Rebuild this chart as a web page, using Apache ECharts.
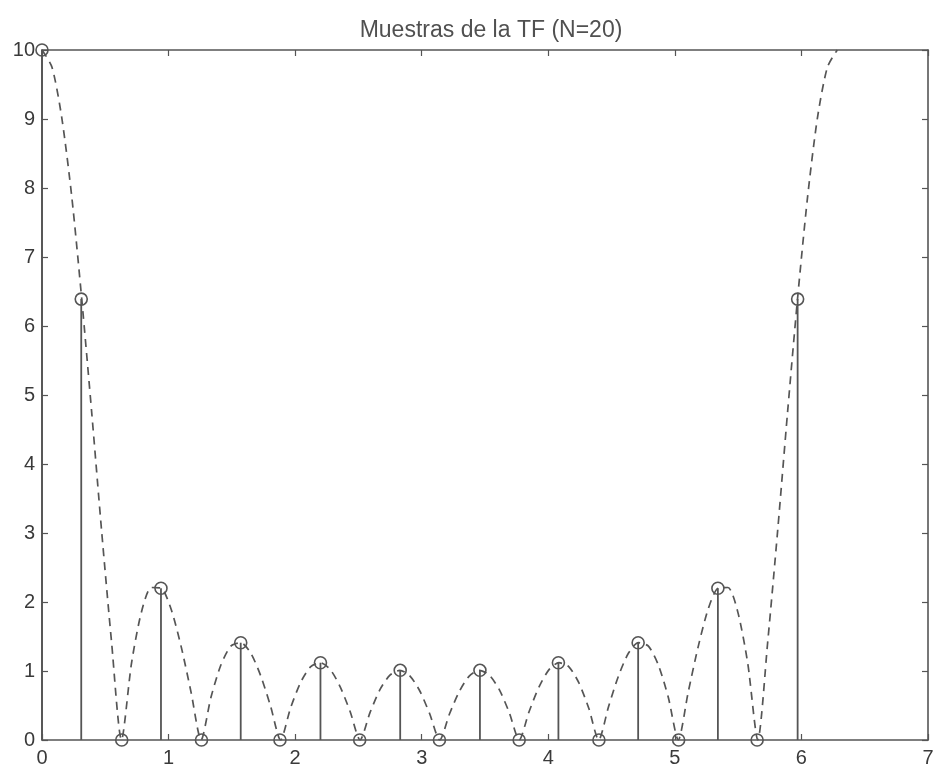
<!DOCTYPE html>
<html>
<head>
<meta charset="utf-8">
<title>Muestras de la TF (N=20)</title>
<script src="https://cdn.jsdelivr.net/npm/echarts@6/dist/echarts.min.js"></script>
<style>
  html, body { margin: 0; padding: 0; background: #fff; }
  #chart { width: 937px; height: 772px; }
</style>
</head>
<body>
<div id="chart"></div>
<script>
// DFT sample positions (rad) and magnitudes, N = 20
const sampleW = [0.00, 0.31, 0.63, 0.94, 1.26, 1.57, 1.88, 2.20, 2.51, 2.83,
                 3.14, 3.46, 3.77, 4.08, 4.40, 4.71, 5.03, 5.34, 5.65, 5.97];
const sampleMag = [10.00, 6.39, 0, 2.20, 0, 1.41, 0, 1.12, 0, 1.01,
                   0, 1.01, 0, 1.12, 0, 1.41, 0, 2.20, 0, 6.39];

// Continuous transform magnitude (dashed envelope), step pi/40
const curveW = [0.000, 0.079, 0.157, 0.236, 0.314, 0.393, 0.471, 0.550, 0.628, 0.707,
                0.785, 0.864, 0.942, 1.021, 1.100, 1.178, 1.257, 1.335, 1.414, 1.492,
                1.571, 1.649, 1.728, 1.806, 1.885, 1.963, 2.042, 2.121, 2.199, 2.278,
                2.356, 2.435, 2.513, 2.592, 2.670, 2.749, 2.827, 2.906, 2.985, 3.063,
                3.142, 3.220, 3.299, 3.377, 3.456, 3.534, 3.613, 3.691, 3.770, 3.848,
                3.927, 4.006, 4.084, 4.163, 4.241, 4.320, 4.398, 4.477, 4.555, 4.634,
                4.712, 4.791, 4.869, 4.948, 5.027, 5.105, 5.184, 5.262, 5.341, 5.419,
                5.498, 5.576, 5.655, 5.733, 5.812, 5.890, 5.969, 6.048, 6.126, 6.205,
                6.283];
const curveMag = [10.00, 9.75, 9.01, 7.86, 6.39, 4.74, 3.03, 1.41, 0.00, 1.11,
                  1.85, 2.21, 2.20, 1.89, 1.35, 0.69, 0.00, 0.62, 1.09, 1.36,
                  1.41, 1.26, 0.93, 0.49, 0.00, 0.46, 0.83, 1.06, 1.12, 1.02,
                  0.77, 0.41, 0.00, 0.40, 0.73, 0.94, 1.01, 0.93, 0.71, 0.38,
                  0.00, 0.38, 0.71, 0.93, 1.01, 0.94, 0.73, 0.40, 0.00, 0.41,
                  0.77, 1.02, 1.12, 1.06, 0.83, 0.46, 0.00, 0.49, 0.93, 1.26,
                  1.41, 1.36, 1.09, 0.62, 0.00, 0.69, 1.35, 1.89, 2.20, 2.21,
                  1.85, 1.11, 0.00, 1.41, 3.03, 4.74, 6.39, 7.86, 9.01, 9.75,
                  10.00];

const xTicks = [0, 1, 2, 3, 4, 5, 6, 7];
const yTicks = [0, 1, 2, 3, 4, 5, 6, 7, 8, 9, 10];

const ink = '#555555';
const textColor = '#3a3a3a';
const font = 'Liberation Sans, Arial, sans-serif';

const samples = sampleW.map((w, i) => [w, sampleMag[i]]);
const curve = curveW.map((w, i) => [w, curveMag[i]]);

const chart = echarts.init(document.getElementById('chart'));

const axisCommon = {
  type: 'value',
  axisLine: { show: true, onZero: false, lineStyle: { color: ink, width: 1.6 } },
  axisTick: { show: true, inside: true, length: 6, lineStyle: { color: ink, width: 1.2 } },
  splitLine: { show: false },
  interval: 1
};

chart.setOption({
  animation: false,
  backgroundColor: '#ffffff',
  title: {
    text: 'Muestras de la TF (N=20)',
    left: 486,
    textAlign: 'center',
    top: 14,
    textStyle: { fontFamily: font, fontSize: 23, fontWeight: 'normal', color: '#505050' }
  },
  grid: { left: 42, right: 9, top: 50, bottom: 32, containLabel: false },
  xAxis: [
    Object.assign({}, axisCommon, {
      min: xTicks[0], max: xTicks[xTicks.length - 1], position: 'bottom',
      axisLabel: { color: textColor, fontFamily: font, fontSize: 20, margin: 8 }
    }),
    Object.assign({}, axisCommon, {
      min: xTicks[0], max: xTicks[xTicks.length - 1], position: 'top',
      axisLabel: { show: false }
    })
  ],
  yAxis: [
    Object.assign({}, axisCommon, {
      min: yTicks[0], max: yTicks[yTicks.length - 1], position: 'left',
      axisLabel: { color: textColor, fontFamily: font, fontSize: 20, margin: 7 }
    }),
    Object.assign({}, axisCommon, {
      min: yTicks[0], max: yTicks[yTicks.length - 1], position: 'right',
      axisLabel: { show: false }
    })
  ],
  series: [
    {
      name: 'envelope',
      type: 'line',
      data: curve,
      smooth: 0.25,
      showSymbol: false,
      lineStyle: { color: ink, width: 1.7, type: [8, 6] },
      clip: true,
      z: 2
    },
    {
      name: 'stems',
      type: 'custom',
      data: samples,
      renderItem: function (params, api) {
        const x = api.value(0);
        const top = api.coord([x, api.value(1)]);
        const base = api.coord([x, 0]);
        return {
          type: 'line',
          shape: { x1: base[0], y1: base[1], x2: top[0], y2: top[1] },
          style: { stroke: ink, lineWidth: 1.8 }
        };
      },
      z: 3
    },
    {
      // open circles: no fill, so the stem shows through
      name: 'samples',
      type: 'scatter',
      data: samples,
      symbol: 'circle',
      symbolSize: 12,
      itemStyle: { color: 'rgba(0,0,0,0)', borderColor: ink, borderWidth: 1.6, opacity: 1 },
      z: 4
    }
  ]
});
</script>
</body>
</html>
